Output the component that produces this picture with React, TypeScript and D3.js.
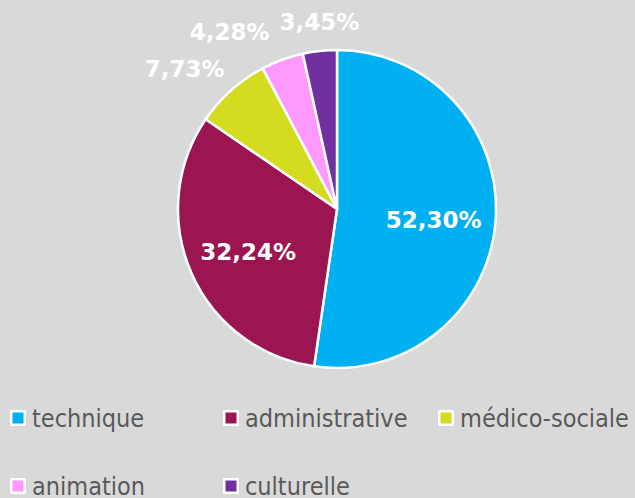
import React, { useEffect, useRef } from "react";
import * as d3 from "d3";

const categories = ["technique", "administrative", "médico-sociale", "animation", "culturelle"];
const values = [52.3, 32.24, 7.73, 4.28, 3.45];
const valueLabels = ["52,30%", "32,24%", "7,73%", "4,28%", "3,45%"];
const colors = ["#00b0f0", "#9b1550", "#d4dc1f", "#ff99ff", "#7030a0"];

const App = () => {
  const svgRef = useRef<SVGSVGElement>(null);

  useEffect(() => {
    const width = 635, height = 498;
    const cx = 337, cy = 209, radius = 159;

    const svg = d3.select(svgRef.current)
      .attr("width", width)
      .attr("height", height)
      .style("display", "block")
      .style("position", "absolute")
      .style("left", 0)
      .style("top", 0);
    svg.selectAll("*").remove();

    svg.append("rect")
      .attr("width", width)
      .attr("height", height)
      .attr("fill", "#d9d9d9");

    const data = categories.map((c, i) => ({ name: c, value: values[i], label: valueLabels[i], color: colors[i] }));

    const pie = d3.pie<any>().value(d => d.value).sort(null);
    const arcs = pie(data);
    const arc = d3.arc<any>().innerRadius(0).outerRadius(radius);

    const g = svg.append("g").attr("transform", `translate(${cx},${cy})`);

    g.selectAll("path")
      .data(arcs)
      .enter().append("path")
      .attr("d", arc)
      .attr("fill", d => d.data.color)
      .attr("stroke", "#fff")
      .attr("stroke-width", 2.5)
      .attr("stroke-linejoin", "round");

    // data labels
    const labels = g.selectAll("text.lbl")
      .data(arcs)
      .enter().append("text")
      .attr("class", "lbl")
      .attr("text-anchor", "middle")
      .attr("dominant-baseline", "central")
      .attr("font-family", "DejaVu Sans, Verdana, sans-serif")
      .attr("font-weight", "bold")
      .attr("font-size", 23)
      .attr("fill", "#fff")
      .text(d => d.data.label);

    const boxes: any[] = [];
    labels.each(function (d: any) {
      const w = (this as SVGTextElement).getComputedTextLength();
      const h = 22;
      const a = (d.startAngle + d.endAngle) / 2;
      const s = Math.sin(a), c = Math.cos(a);
      if (d.endAngle - d.startAngle > 1) {
        const r = radius * 0.61;
        boxes.push({ x: r * s, y: -r * c + 4, w, h, outside: false });
      } else {
        const r = radius + 18;
        boxes.push({ x: r * s + (w / 2) * s * 1.3, y: -r * c - (h / 2) * c, w, h, outside: true });
      }
    });

    // spread overlapping outside labels apart
    for (let i = boxes.length - 2; i >= 0; i--) {
      const b = boxes[i], n = boxes[i + 1];
      if (!b.outside || !n.outside) continue;
      const overlapY = Math.abs(b.y - n.y) < (b.h + n.h) / 2;
      const o = (b.x + b.w / 2) - (n.x - n.w / 2 - 10);
      if (overlapY && o > 0) {
        b.x -= o * 0.8;
        n.x += o * 0.2;
      }
    }

    labels
      .attr("x", (d, i) => boxes[i].x)
      .attr("y", (d, i) => boxes[i].y);

    // legend
    const colX = [10, 223, 438];
    const rowY = [418, 486];
    const legend = svg.append("g");
    data.forEach((d, i) => {
      const x = colX[i % 3];
      const y = rowY[Math.floor(i / 3)];
      const item = legend.append("g").attr("transform", `translate(${x},${y})`);
      item.append("rect")
        .attr("x", 1.25)
        .attr("y", -6.75)
        .attr("width", 13.5)
        .attr("height", 13.5)
        .attr("fill", d.color)
        .attr("stroke", "#fff")
        .attr("stroke-width", 2.5)
        .attr("stroke-linejoin", "round");
      item.append("text")
        .attr("x", 22)
        .attr("y", 0)
        .attr("dominant-baseline", "central")
        .attr("font-family", "DejaVu Sans Condensed, sans-serif")
        .attr("font-stretch", "condensed")
        .attr("font-size", 25)
        .attr("fill", "#595959")
        .text(d.name);
    });
  }, []);

  return <svg ref={svgRef}></svg>;
};

export default App;
